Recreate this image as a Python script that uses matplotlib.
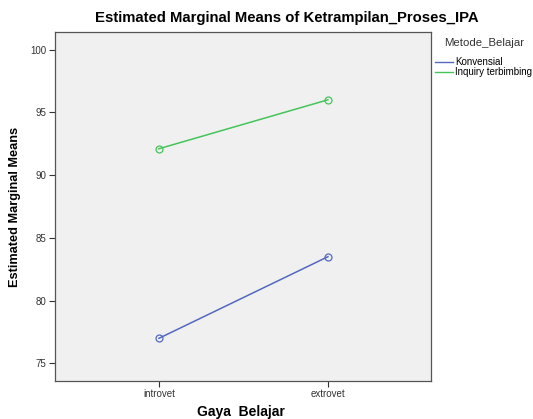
import numpy as np
import matplotlib.pyplot as plt
from matplotlib.lines import Line2D

plt.rcParams['font.family'] = ['Liberation Sans', 'DejaVu Sans']

# Data
gaya_belajar = ["introvet", "extrovet"]
metode = ["Konvensial", "Inquiry terbimbing"]
konvensial = [77.0, 83.5]
inquiry_terbimbing = [92.1, 96.0]
y_ticks = [75, 80, 85, 90, 95, 100]

colors = ["#5468c0", "#45c45a"]

W, H = 533, 419
fig = plt.figure(figsize=(W / 100, H / 100), dpi=100)
ax = fig.add_axes([55 / W, 1 - 381 / H, 376 / W, 349 / H])
ax.set_facecolor("#f0f0f0")

x = np.arange(len(gaya_belajar))
for serie, c in zip([konvensial, inquiry_terbimbing], colors):
    ax.plot(x, serie, color=c, lw=1.1, marker="o", ms=5,
            mfc="none", mec=c, mew=0.9)

ax.set_xlim(-0.615, 1.61)
ax.set_ylim(73.6, 101.4)
ax.set_xticks(x)
ax.set_xticklabels(gaya_belajar)
ax.set_yticks(y_ticks)
ax.tick_params(direction="out", length=4, width=0.8, labelsize=7,
               colors="#333333", pad=2)
for s in ax.spines.values():
    s.set_color("#555555")
    s.set_linewidth(0.9)

fig.text(287 / W, 1 - 18 / H, "Estimated Marginal Means of Ketrampilan_Proses_IPA",
         ha="center", va="center", fontsize=10.7, fontweight="bold")
fig.text(15 / W, 1 - 207 / H, "Estimated Marginal Means", rotation=90,
         ha="center", va="center", fontsize=9.2, fontweight="bold")
fig.text(241 / W, 1 - 412 / H, "Gaya  Belajar", ha="center", va="center",
         fontsize=10, fontweight="bold")

# leyenda a la derecha, fuera del grafico
fig.text(444 / W, 1 - 43 / H, "Metode_Belajar", ha="left", va="center",
         fontsize=8.2, color="#333333")
for i, (nombre, c) in enumerate(zip(metode, colors)):
    y = 1 - (62 + 10 * i) / H
    fig.add_artist(Line2D([435 / W, 453 / W], [y, y], color=c, lw=1.0,
                          transform=fig.transFigure))
    fig.text(455 / W, y, nombre, ha="left", va="center", fontsize=7)

fig.savefig("out.png", dpi=100)
